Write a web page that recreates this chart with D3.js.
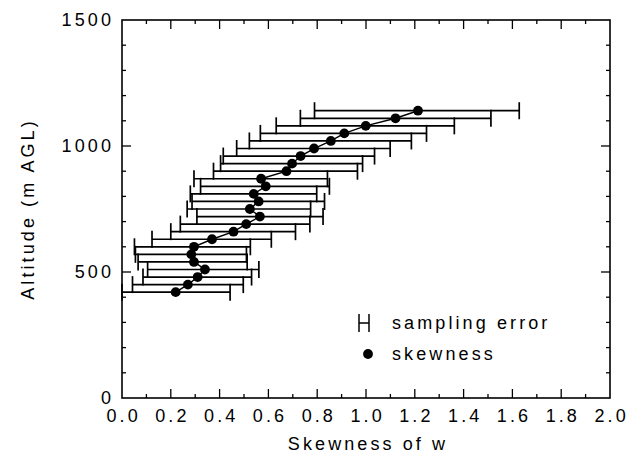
<!DOCTYPE html>
<html lang="en">
<head>
<meta charset="utf-8">
<script src="https://d3js.org/d3.v7.min.js"></script>
<style>
  body { margin: 0; background: #fff; }
  text { font-family: "Liberation Sans", Arial, sans-serif; font-size: 18px; letter-spacing: 3.1px; fill: #000; }
</style>
</head>
<body>
<script>

// altitude levels (m AGL) and skewness
const altitude = [420, 450, 480, 510, 540, 570, 600, 630, 660, 690, 720, 750, 780,
                  810, 840, 870, 900, 930, 960, 990, 1020, 1050, 1080, 1110, 1140];
const skew     = [0.22, 0.27, 0.31, 0.34, 0.295, 0.284, 0.295, 0.369, 0.457, 0.509, 0.565, 0.524, 0.56,
                  0.54, 0.589, 0.57, 0.674, 0.697, 0.732, 0.787, 0.856, 0.911, 0.999, 1.121, 1.213];
// sampling error range (left / right end of each bar)
const errLow   = [0.0, 0.043, 0.086, 0.105, 0.066, 0.055, 0.051, 0.123, 0.2, 0.239, 0.307, 0.267, 0.287,
                  0.28, 0.322, 0.295, 0.375, 0.404, 0.415, 0.47, 0.522, 0.567, 0.632, 0.731, 0.789];
const errHigh  = [0.443, 0.497, 0.531, 0.561, 0.513, 0.51, 0.526, 0.612, 0.711, 0.77, 0.824, 0.773, 0.83,
                  0.798, 0.85, 0.842, 0.965, 0.986, 1.035, 1.099, 1.186, 1.248, 1.362, 1.512, 1.628];

const xTicks = [0.0, 0.2, 0.4, 0.6, 0.8, 1.0, 1.2, 1.4, 1.6, 1.8, 2.0];
const yTicks = [0, 500, 1000, 1500];

const data = altitude.map((a, i) => ({alt: a, s: skew[i], lo: errLow[i], hi: errHigh[i]}));

const width = 636, height = 469;
const mLeft = 122, mRight = 610, mTop = 20, mBottom = 398;

const svg = d3.select('body').append('svg')
  .attr('width', width)
  .attr('height', height);

const x = d3.scaleLinear().domain([0, 2]).range([mLeft, mRight]);
const y = d3.scaleLinear().domain([0, 1500]).range([mBottom, mTop]);

// frame
svg.append('rect')
  .attr('x', mLeft).attr('y', mTop)
  .attr('width', mRight - mLeft).attr('height', mBottom - mTop)
  .attr('fill', 'none').attr('stroke', '#000').attr('stroke-width', 1.6);

// ticks, inward on all four sides
const g = svg.append('g').attr('stroke', '#000').attr('stroke-width', 1.3);
const xMinor = d3.range(1, 20).map(d => d / 10);
xMinor.forEach(v => {
  const len = Math.round(v * 10) % 2 == 0 ? 9 : 4;
  g.append('line').attr('x1', x(v)).attr('x2', x(v)).attr('y1', mBottom).attr('y2', mBottom - len);
  g.append('line').attr('x1', x(v)).attr('x2', x(v)).attr('y1', mTop).attr('y2', mTop + len);
});
const yMinor = d3.range(100, 1500, 100);
yMinor.forEach(v => {
  const len = v % 500 == 0 ? 9 : 4;
  g.append('line').attr('y1', y(v)).attr('y2', y(v)).attr('x1', mLeft).attr('x2', mLeft + len);
  g.append('line').attr('y1', y(v)).attr('y2', y(v)).attr('x1', mRight).attr('x2', mRight - len);
});

// tick labels
svg.selectAll('.xl').data(xTicks).enter().append('text')
  .attr('x', d => x(d) + 1.6)
  .attr('y', mBottom + 24)
  .attr('text-anchor', 'middle')
  .text(d => d.toFixed(1));

svg.selectAll('.yl').data(yTicks).enter().append('text')
  .attr('x', mLeft - 8)
  .attr('y', d => y(d) + 6)
  .attr('text-anchor', 'end')
  .text(d => d);

// axis titles
svg.append('text')
  .attr('x', (mLeft + mRight) / 2 + 2)
  .attr('y', 450)
  .attr('text-anchor', 'middle')
  .text('Skewness of w');

svg.append('text')
  .attr('transform', 'translate(34,' + ((mTop + mBottom) / 2) + ') rotate(-90)')
  .attr('text-anchor', 'middle')
  .text('Altitude (m AGL)');

// error bars
const cap = 8.5;
const eb = svg.append('g').attr('stroke', '#000').attr('stroke-width', 1.7).attr('fill', 'none');
eb.selectAll('.bar').data(data).enter().append('line')
  .attr('x1', d => x(d.lo)).attr('x2', d => x(d.hi))
  .attr('y1', d => y(d.alt)).attr('y2', d => y(d.alt));
eb.selectAll('.capL').data(data).enter().append('line')
  .attr('x1', d => x(d.lo)).attr('x2', d => x(d.lo))
  .attr('y1', d => y(d.alt) - cap).attr('y2', d => y(d.alt) + cap);
eb.selectAll('.capR').data(data).enter().append('line')
  .attr('x1', d => x(d.hi)).attr('x2', d => x(d.hi))
  .attr('y1', d => y(d.alt) - cap).attr('y2', d => y(d.alt) + cap);

// skewness profile
const line = d3.line().x(d => x(d.s)).y(d => y(d.alt));
svg.append('path')
  .attr('d', line(data))
  .attr('fill', 'none').attr('stroke', '#000').attr('stroke-width', 1.4);

svg.selectAll('.dot').data(data).enter().append('circle')
  .attr('cx', d => x(d.s)).attr('cy', d => y(d.alt))
  .attr('r', 4.9).attr('fill', '#000');

// legend
const lg = svg.append('g').attr('stroke', '#000').attr('stroke-width', 1.5);
lg.append('line').attr('x1', 359).attr('x2', 359).attr('y1', 314).attr('y2', 332);
lg.append('line').attr('x1', 369).attr('x2', 369).attr('y1', 314).attr('y2', 332);
lg.append('line').attr('x1', 359).attr('x2', 369).attr('y1', 323).attr('y2', 323);
svg.append('text').attr('x', 392).attr('y', 329).text('sampling error');

svg.append('circle').attr('cx', 368).attr('cy', 354).attr('r', 4.9).attr('fill', '#000');
svg.append('text').attr('x', 392).attr('y', 360).text('skewness');

</script>
</body>
</html>
